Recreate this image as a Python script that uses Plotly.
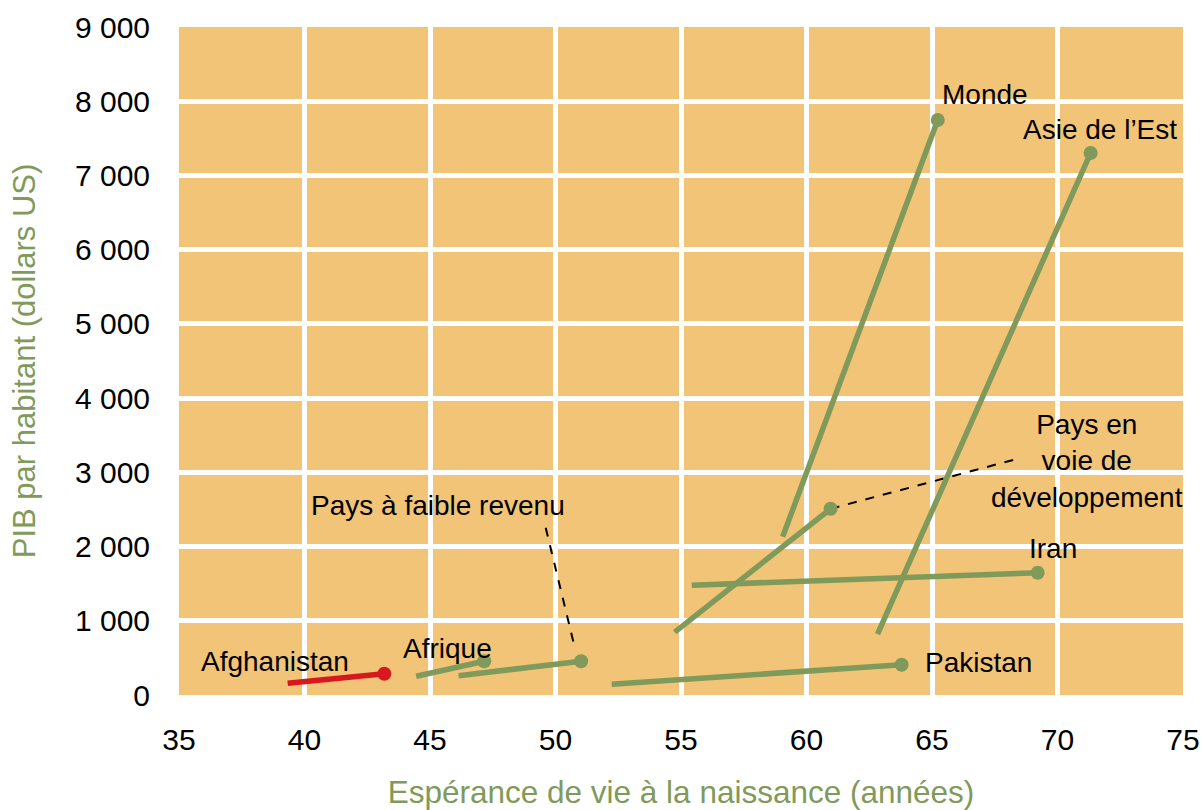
import plotly.graph_objects as go

# Data: trajectories (start -> end) of life expectancy vs GDP per capita
names = ["Afghanistan", "Afrique", "Pays à faible revenu", "Pakistan",
         "Pays en voie de développement", "Iran", "Monde", "Asie de l’Est"]
x_start = [39.33, 44.45, 46.14, 52.24, 54.75, 55.43, 59.05, 62.83]
y_start = [159, 253, 260, 145, 846, 1479, 2132, 819]
x_end = [43.18, 47.16, 51.02, 63.79, 60.96, 69.21, 65.23, 71.32]
y_end = [287, 455, 455, 408, 2509, 1647, 7747, 7303]

# Leader (dashed) lines for labels
leader_x = [[49.61, 50.76], [60.96, 68.40]]
leader_y = [[2253, 650], [2509, 3182]]

# Labels
label_text = ["Monde", "Asie de l’Est", "Pays en<br>voie de<br>développement", "Iran",
              "Pakistan", "Pays à faible revenu", "Afrique", "Afghanistan"]
label_x = [67.10, 71.68, 71.19, 69.82, 66.86, 45.31, 45.69, 38.81]
label_y = [8084, 7613, 3155, 1970, 442, 2549, 625, 448]

x_ticks = [35, 40, 45, 50, 55, 60, 65, 70, 75]
y_ticks = [0, 1000, 2000, 3000, 4000, 5000, 6000, 7000, 8000, 9000]
y_ticktext = ["0", "1 000", "2 000", "3 000", "4 000", "5 000", "6 000", "7 000", "8 000", "9 000"]

GREEN = "#7F9A5A"
RED = "#D7191F"
ORANGE = "#F2C477"
SANS = "Liberation Sans, Arial, sans-serif"

fig = go.Figure()

for xl, yl in zip(leader_x, leader_y):
    fig.add_trace(go.Scatter(x=xl, y=yl, mode="lines",
                             line=dict(color="black", width=2, dash="dash"),
                             hoverinfo="skip", showlegend=False))

for i, n in enumerate(names):
    col = RED if n == "Afghanistan" else GREEN
    fig.add_trace(go.Scatter(
        x=[x_start[i], x_end[i]], y=[y_start[i], y_end[i]],
        mode="lines+markers", name=n,
        line=dict(color=col, width=5.5),
        marker=dict(color=col, size=[0, 14], opacity=1, line=dict(width=0)),
        showlegend=False))

for t, x, y in zip(label_text, label_x, label_y):
    fig.add_annotation(x=x, y=y, text=t, showarrow=False,
                       font=dict(family=SANS, size=28, color="black"))

fig.update_layout(
    width=1203, height=810,
    margin=dict(l=179, r=20, t=27, b=115),
    paper_bgcolor="white", plot_bgcolor=ORANGE,
    xaxis=dict(range=[35, 75], tickvals=x_ticks, showgrid=True, gridcolor="white",
               gridwidth=5, zeroline=False, showline=False, ticks="",
               automargin=False, ticklabelstandoff=24,
               tickfont=dict(family=SANS, size=30, color="black"),
               title=dict(text="Espérance de vie à la naissance (années)",
                          font=dict(family=SANS, size=31.5, color=GREEN), standoff=31)),
    yaxis=dict(range=[0, 9000], tickvals=y_ticks, ticktext=y_ticktext, showgrid=True,
               gridcolor="white", gridwidth=5, zeroline=False, showline=False, ticks="",
               automargin=False, ticklabelstandoff=28,
               tickfont=dict(family=SANS, size=30, color="black"),
               title=dict(text="PIB par habitant (dollars US)",
                          font=dict(family=SANS, size=31, color=GREEN), standoff=30)),
)

fig.write_html("out.html", config={"displayModeBar": False},
               post_script="document.body.style.margin='0';document.body.style.overflow='hidden';")
